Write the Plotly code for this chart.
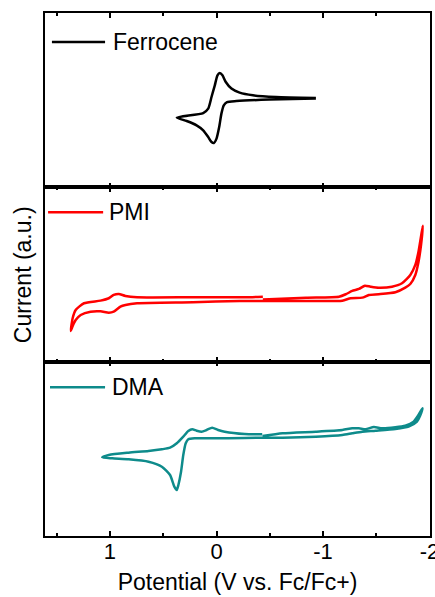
import plotly.graph_objects as go
from plotly.subplots import make_subplots

# ---------------- data (Potential in V vs Fc/Fc+, current in a.u.) ----------------
fc_potential = [-0.933, -0.497, -0.186, -0.099, -0.068, -0.046, -0.025, 0.0, 0.025, 0.047,
                0.078, 0.125, 0.187, 0.280, 0.373,
                0.125, 0.078, 0.047, 0.016, -0.009, -0.031, -0.056, -0.087, -0.140, -0.217,
                -0.342, -0.559, -0.933]
fc_current = [88.7, 87.7, 86.3, 85.3, 82.0, 73.7, 60.3, 48.7, 44.3, 45.3,
              50.3, 57.0, 62.0, 66.3, 69.7,
              74.3, 78.7, 90.3, 102.0, 112.0, 114.3, 112.0, 105.3, 98.7, 94.7,
              92.0, 90.3, 89.3]

pmi_potential = [-0.435, -0.840, -1.150, -1.213, -1.274, -1.337, -1.393, -1.446, -1.523, -1.647,
                 -1.741, -1.819, -1.866, -1.896, -1.922, -1.937,
                 -1.920, -1.896, -1.866, -1.819, -1.772, -1.679, -1.523, -1.430, -1.368, -1.259,
                 -1.181, -0.840, -0.435, -0.217, 0.221, 0.746, 0.855, 0.902, 0.965, 1.011,
                 1.089, 1.182, 1.275, 1.322, 1.353, 1.368,
                 1.350, 1.322, 1.244, 1.089, 1.011, 0.965, 0.918, 0.855, 0.746, 0.221,
                 -0.311, -0.435]
pmi_current = [62.2, 64.0, 65.0, 67.4, 70.7, 72.7, 76.0, 75.0, 74.0, 75.0,
               78.4, 86.7, 96.7, 110.0, 126.7, 136.0,
               116.7, 99.7, 86.7, 77.7, 74.0, 69.4, 67.4, 66.7, 64.0, 63.4,
               61.0, 60.7, 60.7, 60.7, 59.4, 58.4, 56.7, 55.0, 50.0, 49.0,
               50.4, 50.0, 46.7, 41.7, 35.0, 30.7,
               43.7, 51.7, 58.4, 61.0, 63.4, 66.7, 67.7, 65.7, 64.4, 64.4,
               64.4, 65.0]

dma_potential = [-0.432, -0.621, -0.933, -1.181, -1.274, -1.337, -1.399, -1.477, -1.554, -1.679,
                 -1.772, -1.850, -1.896, -1.934,
                 -1.910, -1.881, -1.803, -1.679, -1.493, -1.368, -1.274, -1.181, -0.933, -0.621,
                 -0.429, -0.108, 0.202, 0.265, 0.289, 0.312, 0.333, 0.358, 0.373, 0.396,
                 0.436, 0.513, 0.638, 0.825, 0.979, 1.073,
                 1.011, 0.825, 0.638, 0.513, 0.436, 0.373, 0.312, 0.265, 0.228, 0.187,
                 0.140, 0.093, 0.041, -0.015, -0.077, -0.264, -0.429]
dma_current = [100.0, 102.7, 104.3, 106.0, 107.7, 107.7, 106.7, 109.0, 107.7, 108.7,
               110.3, 114.3, 121.0, 127.7,
               120.0, 114.3, 109.3, 107.0, 105.3, 104.3, 102.7, 101.0, 99.3, 98.3,
               98.3, 97.7, 97.7, 96.7, 92.7, 81.0, 64.3, 51.0, 46.0, 49.3,
               61.0, 69.3, 74.3, 76.7, 77.7, 78.7,
               81.0, 83.3, 85.0, 86.7, 88.3, 92.7, 99.3, 105.0, 106.7, 105.3,
               104.3, 106.0, 108.3, 106.0, 104.3, 102.0, 101.7]

series_names = ["Ferrocene", "PMI", "DMA"]
series_colors = ["#000000", "#FF0000", "#0E8B8B"]
x_tick_vals = [1, 0, -1, -2]
x_tick_text = ["1", "0", "-1", "-2"]

FONT = "Liberation Sans, Arial, sans-serif"

fig = make_subplots(rows=3, cols=1, shared_xaxes=True, vertical_spacing=0)

data = [(fc_potential, fc_current), (pmi_potential, pmi_current), (dma_potential, dma_current)]
for i, ((xv, yv), name, col) in enumerate(zip(data, series_names, series_colors)):
    fig.add_trace(go.Scatter(x=xv, y=yv, mode="lines", name=name,
                             line=dict(color=col, width=2.5, shape="spline", smoothing=0.6),
                             showlegend=False), row=i + 1, col=1)

# legend-like labels (line sample + text) in each panel
legend_pos = [(0.018, 0.156, 0.834, 0.172), (0.008, 0.151, 0.857, 0.162), (0.013, 0.156, 0.853, 0.169)]
for i, (name, col) in enumerate(zip(series_names, series_colors)):
    xr = "x domain" if i == 0 else f"x{i+1} domain"
    yr = "y domain" if i == 0 else f"y{i+1} domain"
    x0, x1, yy, xt = legend_pos[i]
    fig.add_shape(type="line", xref=xr, yref=yr, x0=x0, x1=x1, y0=yy, y1=yy,
                  line=dict(color=col, width=2.5))
    fig.add_annotation(xref=xr, yref=yr, x=xt, y=yy, text=name, showarrow=False,
                       xanchor="left", yanchor="middle",
                       font=dict(family=FONT, size=23, color="black"))

for r in range(1, 4):
    fig.update_xaxes(range=[1.61, -2.004], showline=True, linecolor="black", linewidth=1.6,
                     mirror="ticks", ticks="inside", ticklen=5, tickwidth=1.5, tickcolor="black",
                     tickvals=x_tick_vals, ticktext=x_tick_text, ticklabeloverflow="allow",
                     automargin=False,
                     minor=dict(dtick=0.5, tick0=0, ticks="inside", ticklen=3, tickwidth=1.5,
                                tickcolor="black", showgrid=False),
                     showgrid=False, zeroline=False,
                     tickfont=dict(family=FONT, size=22, color="black"),
                     row=r, col=1)
    fig.update_yaxes(range=[0, 174.3], showline=True, linecolor="black", linewidth=1.6,
                     mirror=True, ticks="", showticklabels=False, showgrid=False,
                     zeroline=False, automargin=False, row=r, col=1)

fig.update_xaxes(ticklabelstandoff=-5,
                 title=dict(text="Potential (V vs. Fc/Fc+)", standoff=11,
                            font=dict(family=FONT, size=23, color="black")), row=3, col=1)

fig.add_annotation(xref="paper", yref="paper", x=-0.058, y=0.5, text="Current (a.u.)",
                   textangle=-90, showarrow=False, xanchor="center", yanchor="middle",
                   font=dict(family=FONT, size=23, color="black"))

fig.update_layout(width=435, height=597, margin=dict(l=45, r=5, t=13, b=61, autoexpand=False),
                  paper_bgcolor="white", plot_bgcolor="white", showlegend=False)

fig.write_html("out.html", config={"displayModeBar": False},
               post_script="document.body.style.margin='0';document.body.style.overflow='hidden';")
